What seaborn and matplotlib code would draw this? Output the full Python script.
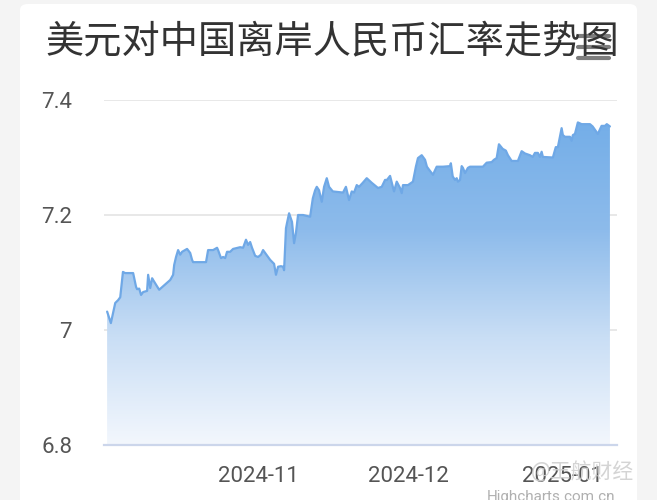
import matplotlib
matplotlib.use("Agg")
import matplotlib.pyplot as plt
import matplotlib.dates as mdates
from matplotlib.colors import LinearSegmentedColormap
from matplotlib.patches import FancyBboxPatch, PathPatch
from matplotlib.path import Path
from matplotlib.lines import Line2D
import numpy as np
import pandas as pd
import seaborn as sns

sns.set_theme(style="white")
plt.rcParams['font.family'] = ['Roboto', 'Noto Sans CJK SC', 'DejaVu Sans']

title = "美元对中国离岸人民币汇率走势图"

# USD/CNH readings
dates = [
    "2024-10-01 19:00", "2024-10-02 13:00", "2024-10-02 23:00", "2024-10-03 10:00",
    "2024-10-04 00:00", "2024-10-04 10:00", "2024-10-04 23:00", "2024-10-05 10:00",
    "2024-10-07 00:00", "2024-10-07 14:00", "2024-10-07 19:00", "2024-10-08 05:00",
    "2024-10-08 14:00", "2024-10-09 00:00", "2024-10-09 19:00", "2024-10-10 00:00",
    "2024-10-10 10:00", "2024-10-10 19:00", "2024-10-11 00:00", "2024-10-12 05:00",
    "2024-10-14 10:00", "2024-10-15 00:00", "2024-10-15 05:00", "2024-10-15 14:00",
    "2024-10-16 00:00", "2024-10-16 10:00", "2024-10-16 19:00", "2024-10-17 19:00",
    "2024-10-18 10:00", "2024-10-18 19:00", "2024-10-19 00:00", "2024-10-21 14:00",
    "2024-10-22 00:00", "2024-10-23 00:00", "2024-10-23 19:00", "2024-10-24 00:00",
    "2024-10-24 14:00", "2024-10-25 00:00", "2024-10-25 10:00", "2024-10-25 19:00",
    "2024-10-26 10:00", "2024-10-27 00:00", "2024-10-28 10:00", "2024-10-29 00:00",
    "2024-10-29 14:00", "2024-10-30 00:00", "2024-10-30 10:00", "2024-10-30 19:00",
    "2024-10-31 10:00", "2024-11-01 00:00", "2024-11-01 14:00", "2024-11-02 00:00",
    "2024-11-02 10:00", "2024-11-03 10:00", "2024-11-04 05:00", "2024-11-04 14:00",
    "2024-11-05 00:00", "2024-11-05 14:00", "2024-11-06 00:00", "2024-11-06 05:00",
    "2024-11-06 14:00", "2024-11-06 19:00", "2024-11-07 05:00", "2024-11-07 19:00",
    "2024-11-08 05:00", "2024-11-08 14:00", "2024-11-09 00:00", "2024-11-10 00:00",
    "2024-11-11 10:00", "2024-11-11 23:00", "2024-11-12 10:00", "2024-11-12 18:00",
    "2024-11-13 05:00", "2024-11-13 18:00", "2024-11-14 05:00", "2024-11-14 18:00",
    "2024-11-15 05:00", "2024-11-15 23:00", "2024-11-18 00:00", "2024-11-18 14:00",
    "2024-11-19 05:00", "2024-11-19 18:00", "2024-11-20 05:00", "2024-11-20 18:00",
    "2024-11-21 05:00", "2024-11-21 23:00", "2024-11-22 18:00", "2024-11-23 18:00",
    "2024-11-25 00:00", "2024-11-25 18:00", "2024-11-26 10:00", "2024-11-26 19:00",
    "2024-11-27 10:00", "2024-11-27 23:00", "2024-11-28 05:00", "2024-11-28 18:00",
    "2024-11-29 10:00", "2024-11-29 18:00", "2024-11-30 00:00", "2024-12-01 00:00",
    "2024-12-02 00:00", "2024-12-02 14:00", "2024-12-03 00:00", "2024-12-03 18:00",
    "2024-12-04 10:00", "2024-12-04 19:00", "2024-12-05 05:00", "2024-12-05 18:00",
    "2024-12-06 00:00", "2024-12-06 18:00", "2024-12-08 00:00", "2024-12-09 10:00",
    "2024-12-09 14:00", "2024-12-09 23:00", "2024-12-10 10:00", "2024-12-10 18:00",
    "2024-12-11 00:00", "2024-12-11 10:00", "2024-12-11 18:00", "2024-12-12 00:00",
    "2024-12-12 10:00", "2024-12-13 00:00", "2024-12-13 10:00", "2024-12-16 00:00",
    "2024-12-16 18:00", "2024-12-17 18:00", "2024-12-18 05:00", "2024-12-18 18:00",
    "2024-12-19 05:00", "2024-12-19 23:00", "2024-12-20 14:00", "2024-12-21 00:00",
    "2024-12-21 18:00", "2024-12-23 00:00", "2024-12-23 18:00", "2024-12-24 10:00",
    "2024-12-25 10:00", "2024-12-25 23:00", "2024-12-26 10:00", "2024-12-27 00:00",
    "2024-12-27 10:00", "2024-12-27 18:00", "2024-12-28 00:00", "2024-12-30 00:00",
    "2024-12-30 14:00", "2024-12-31 00:00", "2024-12-31 18:00", "2025-01-01 00:00",
    "2025-01-01 10:00", "2025-01-02 10:00", "2025-01-02 18:00", "2025-01-03 00:00",
    "2025-01-03 10:00", "2025-01-04 00:00", "2025-01-04 18:00", "2025-01-06 10:00",
    "2025-01-06 23:00", "2025-01-08 00:00", "2025-01-08 18:00", "2025-01-09 10:00",
    "2025-01-09 19:00", "2025-01-10 10:00",
]
rates = [
    7.032, 7.012, 7.029, 7.047, 7.052, 7.057, 7.101, 7.099,
    7.099, 7.075, 7.071, 7.072, 7.061, 7.066, 7.068, 7.096,
    7.073, 7.090, 7.087, 7.070, 7.087, 7.096, 7.113, 7.127,
    7.139, 7.131, 7.136, 7.141, 7.134, 7.122, 7.118, 7.118,
    7.139, 7.139, 7.143, 7.139, 7.125, 7.127, 7.125, 7.136,
    7.136, 7.141, 7.144, 7.143, 7.157, 7.148, 7.153, 7.143,
    7.129, 7.127, 7.131, 7.139, 7.134, 7.122, 7.115, 7.096,
    7.110, 7.111, 7.110, 7.104, 7.177, 7.186, 7.203, 7.188,
    7.151, 7.169, 7.200, 7.200, 7.197, 7.229, 7.243, 7.249,
    7.243, 7.223, 7.249, 7.264, 7.249, 7.241, 7.239, 7.249,
    7.226, 7.241, 7.239, 7.252, 7.249, 7.256, 7.264, 7.256,
    7.247, 7.249, 7.261, 7.261, 7.268, 7.249, 7.241, 7.258,
    7.247, 7.238, 7.252, 7.252, 7.258, 7.284, 7.299, 7.304,
    7.296, 7.284, 7.279, 7.273, 7.270, 7.284, 7.284, 7.285,
    7.290, 7.267, 7.261, 7.264, 7.258, 7.261, 7.285, 7.282,
    7.273, 7.282, 7.284, 7.284, 7.291, 7.292, 7.296, 7.299,
    7.323, 7.315, 7.312, 7.304, 7.294, 7.294, 7.311, 7.307,
    7.304, 7.301, 7.308, 7.308, 7.301, 7.310, 7.301, 7.300,
    7.318, 7.318, 7.351, 7.339, 7.336, 7.336, 7.329, 7.339,
    7.341, 7.361, 7.358, 7.358, 7.354, 7.341, 7.355, 7.355,
    7.358, 7.354,
]
y_ticks = [6.8, 7.0, 7.2, 7.4]
y_tick_labels = ["6.8", "7", "7.2", "7.4"]
x_ticks = ["2024-11-01", "2024-12-01", "2025-01-01"]

df = pd.DataFrame({"date": pd.to_datetime(dates), "rate": rates})

fig = plt.figure(figsize=(6.57, 5.0), dpi=100, facecolor="#f4f4f4")
# white card behind the chart
card = FancyBboxPatch((20 / 657, -0.05), 617 / 657, 1.042,
                      boxstyle="round,pad=0,rounding_size=0.012",
                      transform=fig.transFigure, facecolor="white",
                      edgecolor="none", zorder=-1)
fig.patches.append(card)

ax = fig.add_axes([104 / 657, 55 / 500, 513 / 657, 345 / 500])
ax.set_facecolor("none")
ax.set_zorder(1)

line_color = "#6fa8e6"
sns.lineplot(data=df, x="date", y="rate", ax=ax, color=line_color,
             linewidth=1.6, zorder=3)

x_num = mdates.date2num(df["date"])
ymin, ymax = 6.8, 7.4
xmin = mdates.date2num(pd.Timestamp("2024-10-01 04:00"))
xmax = mdates.date2num(pd.Timestamp("2025-01-11 20:00"))

# gradient area under the line
verts = [(x_num[0], ymin)] + list(zip(x_num, df["rate"])) + [(x_num[-1], ymin)]
clip = PathPatch(Path(verts), facecolor="none", edgecolor="none",
                 transform=ax.transData)
ax.add_patch(clip)
cmap = LinearSegmentedColormap.from_list(
    "fade", ["#f3f7fd", "#c9def5", "#8dbbeb", "#74aee8"])
grad = np.linspace(0, 1, 256).reshape(-1, 1)
img = ax.imshow(grad, cmap=cmap, aspect="auto", origin="lower",
                extent=[x_num[0], x_num[-1], ymin, 7.36], zorder=2)
img.set_clip_path(clip)

ax.set_xlim(xmin, xmax)
ax.set_ylim(ymin, ymax)
ax.set_yticks(y_ticks)
ax.set_yticklabels(y_tick_labels)
ax.set_xticks(mdates.date2num(pd.to_datetime(x_ticks)))
ax.xaxis.set_major_formatter(mdates.DateFormatter("%Y-%m"))
ax.set_xlabel("")
ax.set_ylabel("")

for v in y_ticks[1:]:
    ax.axhline(v, color="#e6e6e6", linewidth=1.3, zorder=1)
for s in ["top", "right", "left"]:
    ax.spines[s].set_visible(False)
ax.spines["bottom"].set_color("#ccd6eb")
ax.spines["bottom"].set_linewidth(1.6)
ax.spines["bottom"].set_zorder(4)

ax.tick_params(axis="y", length=0, pad=23, labelsize=16, labelcolor="#555555")
ax.tick_params(axis="x", length=13, width=1.2, color="#ccd6eb", pad=2,
               labelsize=16, labelcolor="#555555")

fig.text(332 / 657, 1 - 42 / 500, title, ha="center", va="center",
         fontsize=27.5, color="#333333", family=["Noto Sans CJK SC", "DejaVu Sans"])

# menu button
for yy in [36, 47, 58]:
    fig.add_artist(Line2D([578 / 657, 609 / 657], [1 - yy / 500, 1 - yy / 500],
                          color="#666666", linewidth=3.0, alpha=0.85,
                          solid_capstyle="round"))

# watermark and credits
fig.text(583 / 657, 1 - 472 / 500, "@王航财经", ha="center", va="center",
         fontsize=15, color="#d0d0d0", alpha=0.9,
         family=["Noto Sans CJK SC", "DejaVu Sans"])
fig.text(615 / 657, 1 - 497 / 500, "Highcharts.com.cn", ha="right", va="center",
         fontsize=11, color="#b0b0b0")

fig.savefig("out.png", dpi=100, facecolor=fig.get_facecolor())
